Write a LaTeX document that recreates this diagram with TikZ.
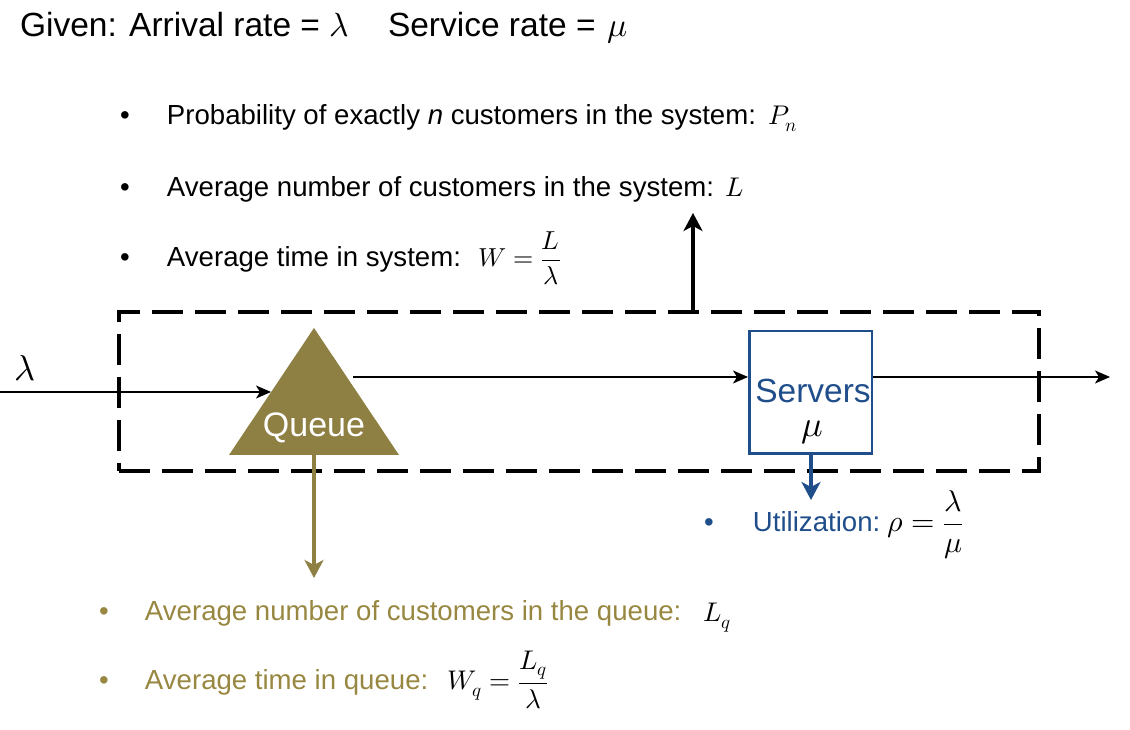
\documentclass[tikz,border=0pt]{standalone}
\usepackage{amsmath}
\usepackage{fontspec}
\usepackage{unicode-math}
\setmainfont{Liberation Sans}
\setmathfont{Latin Modern Math}
\usetikzlibrary{arrows.meta}
\definecolor{qolive}{RGB}{142,127,66}
\definecolor{qtext}{RGB}{152,135,64}
\definecolor{sblue}{RGB}{31,78,138}
\newcommand\myfs[1]{\fontsize{#1}{#1}\selectfont}
\tikzset{
  lbl/.style={anchor=base west, inner sep=0pt, outer sep=0pt},
  bul/.style={lbl, font=\myfs{27.6}},
  thinarrow/.style={line width=1.5pt, -{Stealth[length=15pt,width=13pt,inset=4pt]}},
  thickarrow/.style={line width=4pt, -{Stealth[length=18pt,width=19pt,inset=5pt]}},
}
\begin{document}
\begin{tikzpicture}[x=1pt,y=1pt]
\useasboundingbox (0,0) rectangle (1130,730);

% title
\node[lbl, font=\myfs{33.5}] (title1) at (20,693) {Given: Arrival rate = $\lambda$};
\node[lbl, font=\myfs{33.5}] (title2) at (388,693) {Service rate =\hspace{12pt}$\mu$};

% system measures
\node[bul] (b1) at (120,605) {\makebox[47pt][l]{•}Probability of exactly \textit{n} customers in the system:};
\node[lbl, font=\myfs{27}] (pn) at (768,605) {$P_n$};
\node[bul] (b2) at (120,533) {\makebox[47pt][l]{•}Average number of customers in the system:};
\node[lbl, font=\myfs{27}] (lsys) at (725,533) {$L$};
\node[bul] (b3) at (120,463) {\makebox[47pt][l]{•}Average time in system:};
\node[lbl, font=\myfs{26}] (wsys) at (478,463) {$W=\dfrac{L}{\lambda}$};

% system boundary
\node[draw, line width=4pt, dash pattern=on 31pt off 12pt, minimum width=920pt, minimum height=159pt, inner sep=0pt] (sys) at (579,338.5) {};

% queue
\fill[qolive] (229,275) -- (314,402) -- (399,275) -- cycle;
\node[font=\myfs{34}, text=white, anchor=base, inner sep=0pt] (queue) at (314,293) {Queue};
\coordinate (src) at (0,338);
\coordinate (qin) at (271,338);
\coordinate (qout) at (353,353);
\coordinate (qbot) at (314,275);
\node[font=\myfs{36}, inner sep=0pt] (lam) at (25,362) {$\lambda$};

% servers
\node[draw=sblue, line width=2.5pt, minimum size=122.5pt, inner sep=0pt] (srv) at (810.5,337.5) {};
\node[text=sblue, font=\myfs{33.5}, anchor=base, inner sep=0pt] (srvname) at (813,327) {Servers};
\node[font=\myfs{36}, anchor=base, inner sep=0pt] (srvrate) at (812,293) {$\mu$};

% flow arrows
\coordinate (sink) at (1110,353);
\draw[thinarrow] (src) -- (qin);
\draw[thinarrow] (qout) -- (srv.west |- qout);
\draw[thinarrow] (srv.east |- qout) -- (sink);

% measure arrows
\coordinate (Ltip) at (693,517);
\draw[thickarrow] (sys.north -| Ltip) -- (Ltip);
\coordinate (Lqtip) at (314,152);
\draw[thickarrow, qolive, line width=3.5pt] (qbot) -- (Lqtip);
\coordinate (rhotip) at (811,230);
\draw[thickarrow, sblue] (srv.south -| rhotip) -- (rhotip);

% utilization
\node[lbl, font=\myfs{27.6}, text=sblue] (util) at (704,198) {\makebox[49pt][l]{•}Utilization:};
\node[lbl, font=\myfs{30}] (rho) at (887,198) {$\rho=\dfrac{\lambda}{\mu}$};

% queue measures
\node[lbl, font=\myfs{27.6}, text=qtext] (q1) at (99,109) {\makebox[46pt][l]{•}Average number of customers in the queue:};
\node[lbl, font=\myfs{27}] (lq) at (703,108) {$L_q$};
\node[lbl, font=\myfs{27.6}, text=qtext] (q2) at (99,40) {\makebox[46pt][l]{•}Average time in queue:};
\node[lbl, font=\myfs{27}] (wq) at (447,40) {$W_q=\dfrac{L_q}{\lambda}$};
\end{tikzpicture}
\end{document}
